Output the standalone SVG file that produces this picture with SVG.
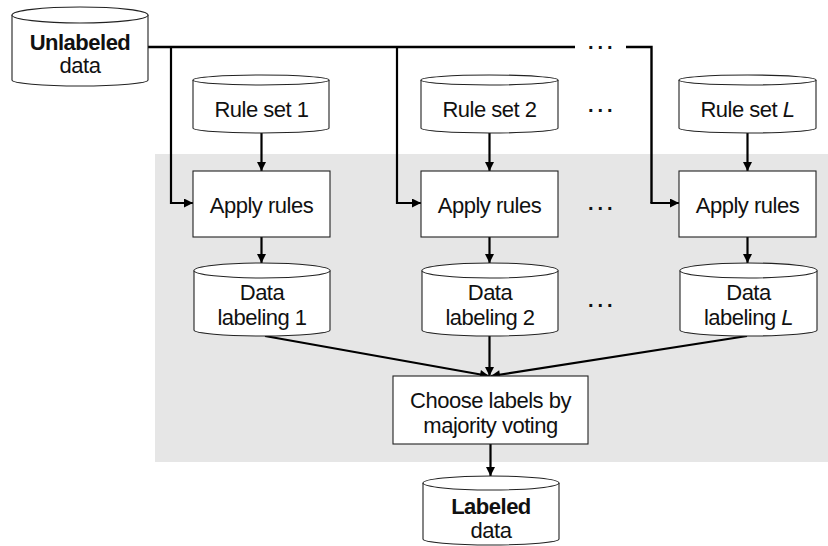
<svg xmlns="http://www.w3.org/2000/svg" width="828" height="546" viewBox="0 0 828 546">
  <style>
    .shape { fill: #ffffff; stroke: #222222; stroke-width: 1.1; }
    .txt { font-family: "Liberation Sans", Arial, Helvetica, sans-serif; font-size: 22px; letter-spacing: -0.5px; fill: #111111; text-anchor: middle; }
    .bold { font-weight: bold; }
    .wire { fill: none; stroke: #000000; stroke-width: 2.4; }
    .arr { fill: none; stroke: #000000; stroke-width: 2.2; marker-end: url(#head); }
    .dots { font-family: "Liberation Sans", Arial, Helvetica, sans-serif; font-size: 20px; font-weight: bold; fill: #111111; letter-spacing: 4px; }
  </style>
  <defs>
    <marker id="head" viewBox="0 0 10 10" refX="10" refY="5" markerWidth="10" markerHeight="9" markerUnits="userSpaceOnUse" orient="auto">
      <path d="M0,0 L10,5 L0,10 Z" fill="#000000"/>
    </marker>
  </defs>

  <!-- shaded processing region -->
  <rect x="155" y="154" width="673" height="308" fill="#e6e6e6"/>

  <!-- connectors -->
  <g id="connectors">
    <!-- unlabeled data distribution bus -->
    <path class="wire" d="M148,47 H575"/>
    <path class="wire" d="M626,47 H651.5 V203"/>
    <path class="arr" d="M171,47 V203 H193"/>
    <path class="arr" d="M397,47 V203 H421"/>
    <path class="arr" d="M651.5,202 V203 H679"/>
    <!-- rule sets into appliers -->
    <path class="arr" d="M261.5,133 V171"/>
    <path class="arr" d="M489.5,133 V171"/>
    <path class="arr" d="M747.5,133 V171"/>
    <!-- appliers into labelings -->
    <path class="arr" d="M261.5,237 V263"/>
    <path class="arr" d="M489.5,237 V263"/>
    <path class="arr" d="M747.5,237 V263"/>
    <!-- labelings into voting -->
    <path class="arr" d="M265,336 L489,376"/>
    <path class="arr" d="M489.5,336 V376"/>
    <path class="arr" d="M747,336 L491,376"/>
    <!-- voting into labeled data -->
    <path class="arr" d="M490.5,444 V476"/>
  </g>

  <!-- ellipsis marks -->
  <text class="dots" x="588" y="49">...</text>
  <text class="dots" x="588" y="112">...</text>
  <text class="dots" x="588" y="210">...</text>
  <text class="dots" x="588" y="307">...</text>

  <g id="unlabeled-data">
    <path class="shape" d="M12,15 V80 A68,6 0 0 0 148,80 V15 A68,8 0 0 0 12,15 Z"/>
    <path class="shape" fill="none" d="M12,15 A68,8 0 0 0 148,15"/>
    <text class="txt bold" x="80" y="50">Unlabeled</text>
    <text class="txt" x="80" y="73">data</text>
  </g>

  <g id="rule-set-1">
    <path class="shape" d="M193,80 V128 A68,5 0 0 0 329,128 V80 A68,5 0 0 0 193,80 Z"/>
    <path class="shape" fill="none" d="M193,80 A68,5 0 0 0 329,80"/>
    <text class="txt" x="261.5" y="117">Rule set 1</text>
  </g>
  <g id="rule-set-2">
    <path class="shape" d="M421,80 V128 A68.5,5 0 0 0 558,128 V80 A68.5,5 0 0 0 421,80 Z"/>
    <path class="shape" fill="none" d="M421,80 A68.5,5 0 0 0 558,80"/>
    <text class="txt" x="489.5" y="117">Rule set 2</text>
  </g>
  <g id="rule-set-L">
    <path class="shape" d="M679,80 V128 A68.5,5 0 0 0 816,128 V80 A68.5,5 0 0 0 679,80 Z"/>
    <path class="shape" fill="none" d="M679,80 A68.5,5 0 0 0 816,80"/>
    <text class="txt" x="747.5" y="117">Rule set <tspan font-style="italic">L</tspan></text>
  </g>

  <g id="apply-rules-1">
    <rect class="shape" x="193" y="171" width="137" height="66"/>
    <text class="txt" x="261.5" y="213">Apply rules</text>
  </g>
  <g id="apply-rules-2">
    <rect class="shape" x="421" y="171" width="137" height="66"/>
    <text class="txt" x="489.5" y="213">Apply rules</text>
  </g>
  <g id="apply-rules-L">
    <rect class="shape" x="679" y="171" width="137" height="66"/>
    <text class="txt" x="747.5" y="213">Apply rules</text>
  </g>

  <g id="data-labeling-1">
    <path class="shape" d="M194,270.5 V330 A68,6 0 0 0 330,330 V270.5 A68,7.5 0 0 0 194,270.5 Z"/>
    <path class="shape" fill="none" d="M194,270.5 A68,7.5 0 0 0 330,270.5"/>
    <text class="txt" x="262" y="300">Data</text>
    <text class="txt" x="262" y="325">labeling 1</text>
  </g>
  <g id="data-labeling-2">
    <path class="shape" d="M422,270.5 V330 A68,6 0 0 0 558,330 V270.5 A68,7.5 0 0 0 422,270.5 Z"/>
    <path class="shape" fill="none" d="M422,270.5 A68,7.5 0 0 0 558,270.5"/>
    <text class="txt" x="490" y="300">Data</text>
    <text class="txt" x="490" y="325">labeling 2</text>
  </g>
  <g id="data-labeling-L">
    <path class="shape" d="M680,270.5 V330 A68.5,6 0 0 0 817,330 V270.5 A68.5,7.5 0 0 0 680,270.5 Z"/>
    <path class="shape" fill="none" d="M680,270.5 A68.5,7.5 0 0 0 817,270.5"/>
    <text class="txt" x="748.5" y="300">Data</text>
    <text class="txt" x="748.5" y="325">labeling <tspan font-style="italic">L</tspan></text>
  </g>

  <g id="majority-voting">
    <rect class="shape" x="393" y="376" width="195" height="68"/>
    <text class="txt" x="490.5" y="408">Choose labels by</text>
    <text class="txt" x="490.5" y="433">majority voting</text>
  </g>

  <g id="labeled-data">
    <path class="shape" d="M423,483 V539 A68,6 0 0 0 559,539 V483 A68,7 0 0 0 423,483 Z"/>
    <path class="shape" fill="none" d="M423,483 A68,7 0 0 0 559,483"/>
    <text class="txt bold" x="491" y="514">Labeled</text>
    <text class="txt" x="491" y="538">data</text>
  </g>
</svg>
